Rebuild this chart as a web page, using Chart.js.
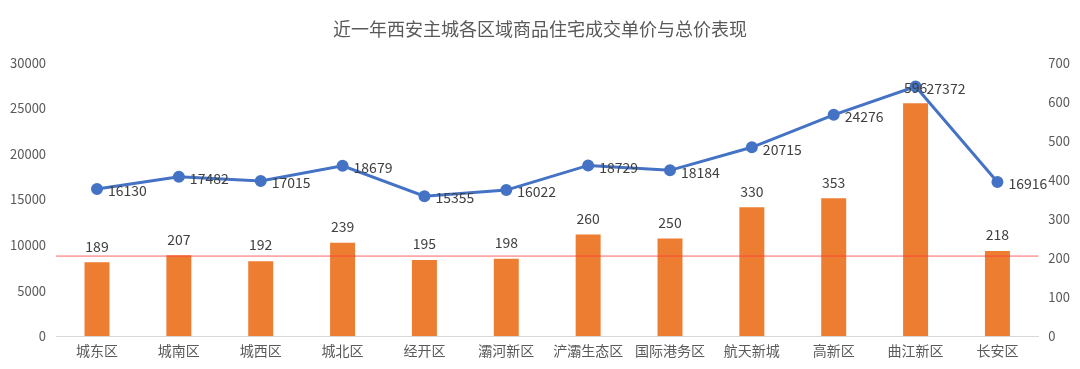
<!DOCTYPE html>
<html>
<head>
<meta charset="utf-8">
<script src="https://cdn.jsdelivr.net/npm/chart.js@4"></script>
<style>
  html, body { margin: 0; padding: 0; background: #fff; }
</style>
</head>
<body>
<canvas id="myChart" width="1080" height="369"></canvas>
<script>
const labels = ['城东区', '城南区', '城西区', '城北区', '经开区', '灞河新区', '浐灞生态区', '国际港务区', '航天新城', '高新区', '曲江新区', '长安区'];
const unitPrice = [16130, 17482, 17015, 18679, 15355, 16022, 18729, 18184, 20715, 24276, 27372, 16916];
const totalPrice = [189, 207, 192, 239, 195, 198, 260, 250, 330, 353, 596, 218];
const refLine = 205;

const FONT = '"Noto Sans CJK SC", "Noto Sans", sans-serif';

// draws value labels and the red reference line
const labelPlugin = {
  id: 'labelPlugin',
  afterDatasetsDraw(chart) {
    const ctx = chart.ctx;
    const area = chart.chartArea;
    const y = chart.scales.y1.getPixelForValue(refLine);
    ctx.save();
    ctx.strokeStyle = 'rgba(255, 60, 60, 0.8)';
    ctx.lineWidth = 1;
    ctx.beginPath();
    ctx.moveTo(area.left, y);
    ctx.lineTo(area.right, y);
    ctx.stroke();

    ctx.font = '14px ' + FONT;
    ctx.fillStyle = '#404040';

    const bars = chart.getDatasetMeta(1).data;
    ctx.textAlign = 'center';
    ctx.textBaseline = 'bottom';
    bars.forEach((b, i) => {
      ctx.fillText(totalPrice[i], b.x, b.y - 9);
    });

    const pts = chart.getDatasetMeta(0).data;
    ctx.textAlign = 'left';
    ctx.textBaseline = 'middle';
    pts.forEach((p, i) => {
      ctx.fillText(unitPrice[i], p.x + 11, p.y + 2);
    });
    ctx.restore();
  }
};

const plain = v => String(v);

const ctx = document.getElementById('myChart').getContext('2d');
new Chart(ctx, {
  type: 'bar',
  data: {
    labels: labels,
    datasets: [{
      type: 'line',
      label: '单价',
      data: unitPrice,
      yAxisID: 'y',
      borderColor: '#4472C4',
      backgroundColor: '#4472C4',
      borderWidth: 3,
      pointRadius: 4.5,
      pointHoverRadius: 4.5,
      tension: 0,
      order: 0
    }, {
      label: '总价',
      data: totalPrice,
      yAxisID: 'y1',
      backgroundColor: '#ED7D31',
      barPercentage: 0.305,
      categoryPercentage: 1,
      order: 1
    }]
  },
  options: {
    responsive: false,
    animation: false,
    layout: { padding: { left: 0, right: 0, top: 0, bottom: 4 } },
    plugins: {
      legend: { display: false },
      tooltip: { enabled: false },
      title: {
        display: true,
        text: '近一年西安主城各区域商品住宅成交单价与总价表现',
        color: '#595959',
        font: { family: FONT, size: 18, weight: 'normal' },
        padding: { top: 18, bottom: 23 }
      }
    },
    scales: {
      x: {
        grid: { display: false, drawTicks: false },
        border: { color: '#d9d9d9', width: 1 },
        ticks: { color: '#595959', font: { family: FONT, size: 14 }, padding: 6, maxRotation: 0 }
      },
      y: {
        position: 'left',
        min: 0,
        max: 30000,
        grid: { display: false, drawTicks: false },
        border: { display: false },
        ticks: { stepSize: 5000, callback: plain, color: '#595959', font: { family: FONT, size: 13 }, padding: 10 }
      },
      y1: {
        position: 'right',
        min: 0,
        max: 700,
        grid: { display: false, drawTicks: false },
        border: { display: false },
        ticks: { stepSize: 100, callback: plain, color: '#595959', font: { family: FONT, size: 13 }, padding: 10 }
      }
    }
  },
  plugins: [labelPlugin]
});
</script>
</body>
</html>
